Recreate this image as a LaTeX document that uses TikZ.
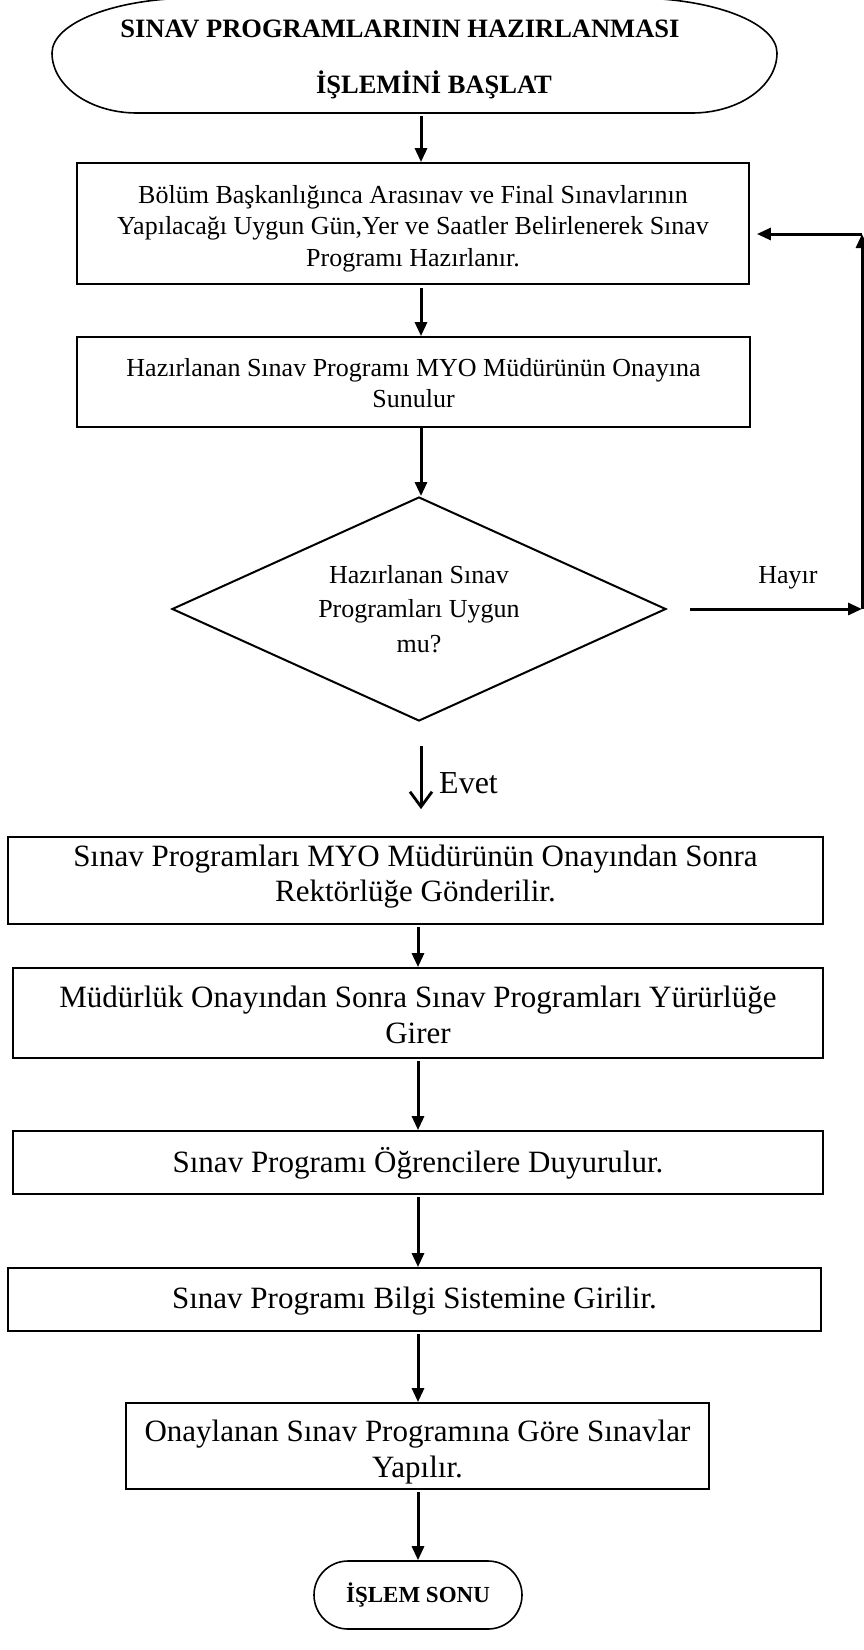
\documentclass[tikz,border=0pt]{standalone}
\usepackage{fontspec}
\setmainfont{Liberation Serif}
\usetikzlibrary{arrows.meta,shapes.geometric,shapes.misc}
\begin{document}
\begin{tikzpicture}[x=1pt,y=1pt,
  box/.style={draw, line width=1.8pt, inner sep=0pt},
  txta/.style={inner sep=0pt, align=center, font=\fontsize{26}{31.6}\selectfont},
  txtb/.style={inner sep=0pt, align=center, font=\fontsize{31}{35.5}\selectfont},
  arr/.style={line width=3pt, -{Triangle[length=14pt,width=12pt]}},
  barb/.style={line width=3pt, -{Straight Barb[length=15pt,width=22pt,line width=2.8pt]}},
  lbl/.style={inner sep=0pt},
]
\useasboundingbox (0,0) rectangle (864,-1650);
\clip (0,0) rectangle (864,-1650);
\fill[white] (0,0) rectangle (864,-1650);

% column positions of the vertical connectors
\coordinate (c1) at (421,0);
\coordinate (c2) at (418,0);

% start terminal: flattened oval, its top runs off the page edge
\draw[line width=1.6pt] (195,2) -- (634,2)
  arc[start angle=90,end angle=0,x radius=143,y radius=55]
  arc[start angle=0,end angle=-90,x radius=85,y radius=60] -- (137,-113)
  arc[start angle=270,end angle=180,x radius=85,y radius=60]
  arc[start angle=180,end angle=90,x radius=143,y radius=55] -- cycle;
\node[inner sep=0pt, minimum width=726pt, minimum height=110pt, align=center,
      font=\bfseries\fontsize{26.5}{56}\selectfont] (start) at (417,-59)
  {SINAV PROGRAMLARININ HAZIRLANMASI\hspace*{34pt}\\ \hspace*{34pt}İŞLEMİNİ BAŞLAT};

% process boxes (frames) and their texts
\node[box, minimum width=672pt, minimum height=121pt] (box1) at (413,-223.5) {};
\node[txta] (box1t) at ([yshift=-5pt]box1.center)
  {Bölüm Başkanlığınca Arasınav ve Final Sınavlarının\\
   Yapılacağı Uygun Gün,Yer ve Saatler Belirlenerek Sınav\\
   Programı Hazırlanır.};

\node[box, minimum width=673pt, minimum height=90pt] (box2) at (413.5,-382) {};
\node[txta] (box2t) at ([yshift=-1pt]box2.center)
  {Hazırlanan Sınav Programı MYO Müdürünün Onayına\\ Sunulur};

% decision
\node[draw, diamond, line width=2pt, inner sep=0pt, aspect=2.2,
      minimum width=494pt, minimum height=224pt, align=center,
      font=\fontsize{26}{34.5}\selectfont] (dec) at (419,-609)
  {Hazırlanan Sınav\\ Programları Uygun\\ mu?};

\node[box, minimum width=815pt, minimum height=87pt] (box3) at (415.5,-880.5) {};
\node[txtb] (box3t) at ([yshift=4pt]box3.center)
  {Sınav Programları MYO Müdürünün Onayından Sonra\\ Rektörlüğe Gönderilir.};

\node[box, minimum width=810pt, minimum height=90pt] (box4) at (418,-1013) {};
\node[txtb] (box4t) at ([yshift=-2pt]box4.center)
  {Müdürlük Onayından Sonra Sınav Programları Yürürlüğe\\ Girer};

\node[box, minimum width=810pt, minimum height=63pt] (box5) at (418,-1162.5) {};
\node[txtb] (box5t) at ([yshift=-1pt]box5.center)
  {Sınav Programı Öğrencilere Duyurulur.};

\node[box, minimum width=813pt, minimum height=63pt] (box6) at (414.5,-1299.5) {};
\node[txtb] (box6t) at ([yshift=-2pt]box6.center)
  {Sınav Programı Bilgi Sistemine Girilir.};

\node[box, minimum width=583pt, minimum height=86pt] (box7) at (417.5,-1446) {};
\node[txtb] (box7t) at ([yshift=-6pt]box7.center)
  {Onaylanan Sınav Programına Göre Sınavlar\\ Yapılır.};

% end terminal
\node[draw, rounded rectangle, line width=1.6pt, inner sep=0pt,
      minimum width=208pt, minimum height=68pt,
      font=\bfseries\fontsize{23}{27}\selectfont] (end) at (418,-1595) {İŞLEM SONU};

% branch labels
\node[lbl, anchor=base west, font=\fontsize{32}{36}\selectfont] (evet) at (439,-793) {Evet};
\node[lbl, anchor=base, font=\fontsize{26}{30}\selectfont] (hayir) at (788,-583) {Hayır};

% feedback corner points
\coordinate (hr) at (862,-609);
\coordinate (tr) at (862,-234);

% connectors
\draw[arr, shorten <=2pt] (start.south -| c1) -- (box1.north -| c1);
\draw[arr, shorten <=3pt] (box1.south -| c1) -- (box2.north -| c1);
\draw[arr] (box2.south -| c1) -- (dec.north -| c1);
\draw[barb, shorten <=24pt, shorten >=27pt] (dec.south -| c1) -- (box3.north -| c1);
\draw[arr, shorten <=2pt] (box3.south -| c2) -- (box4.north -| c2);
\draw[arr, shorten <=2pt] (box4.south -| c2) -- (box5.north -| c2);
\draw[arr, shorten <=2pt] (box5.south -| c2) -- (box6.north -| c2);
\draw[arr, shorten <=2pt] (box6.south -| c2) -- (box7.north -| c2);
\draw[arr, shorten <=2pt] (box7.south -| c2) -- (end.north -| c2);

\draw[arr, shorten <=23pt] (dec.east) -- (hr);
\draw[arr] (hr) -- (tr);
\draw[arr, shorten >=7pt] (tr) -- (box1.east |- tr);
\end{tikzpicture}
\end{document}
